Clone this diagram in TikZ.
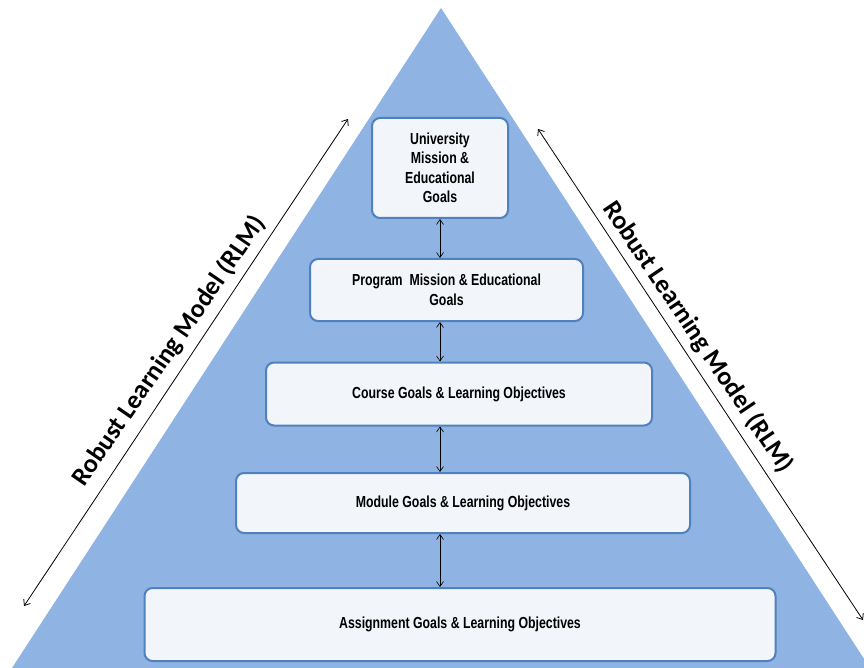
\documentclass[tikz,border=0pt]{standalone}
\usepackage{fontspec}
\usetikzlibrary{arrows.meta}
\newfontfamily\boxfont[FakeStretch=0.77]{Liberation Sans}
\newfontfamily\sidefont{Carlito}
\definecolor{pyramid}{HTML}{8FB3E2}
\definecolor{boxline}{HTML}{4F81BD}
\definecolor{boxfill}{HTML}{F2F5FA}
\begin{document}
\begin{tikzpicture}[x=1pt, y=-1pt,
			level/.style = {draw=boxline, fill=boxfill, line width=2pt, rounded corners=8pt, align=center, inner sep=2pt,
				font=\boxfont\bfseries\fontsize{16}{19.5}\selectfont},
			link/.style = {<->, >={Straight Barb[length=5pt,width=7pt]}, semithick},
			side/.style = {<->, >={Straight Barb[length=5pt,width=8pt]}, line width=0.8pt},
			sidelabel/.style = {font=\sidefont\bfseries\fontsize{26}{30}\selectfont}] 
			
			\useasboundingbox (0,0) rectangle (864,668);
			\clip (0,0) rectangle (864,668);
			\fill[pyramid] (441,8) -- (12,668) -- (870,668) -- cycle;
			
			\node[level, minimum width=136pt, minimum height=100pt] (univ) at (440,168) {University\\Mission \&\\Educational\\Goals};
			\node[level, minimum width=273pt, minimum height=62pt] (prog) at (446.5,290) {Program\ \ Mission \& Educational\\Goals};
			\node[level, minimum width=386pt, minimum height=63pt] (course) at (459,394) {Course Goals \& Learning Objectives};
			\node[level, minimum width=454pt, minimum height=60pt] (module) at (463,503) {Module Goals \& Learning Objectives};
			\node[level, minimum width=631pt, minimum height=73pt] (assign) at (460,624.5) {Assignment Goals \& Learning Objectives};
			
			\draw[link] (univ.south) -- (univ.south |- prog.north);
			\draw[link] (univ.south |- prog.south) -- (univ.south |- course.north);
			\draw[link] (univ.south |- course.south) -- (univ.south |- module.north);
			\draw[link] (univ.south |- module.south) -- (univ.south |- assign.north);
			
			\coordinate (l1) at (24,606);
			\coordinate (l2) at (348,119);
			\coordinate (r1) at (538,129);
			\coordinate (r2) at (863,620);
			\draw[side] (l1) -- (l2);
			\draw[side] (r1) -- (r2);
			
			\node[sidelabel, rotate=55.5] (rlmleft) at (169,351) {Robust Learning Model (RLM)};
			\node[sidelabel, rotate=-56] (rlmright) at (698,337) {Robust Learning Model (RLM)};
			
		\end{tikzpicture}
\end{document}
